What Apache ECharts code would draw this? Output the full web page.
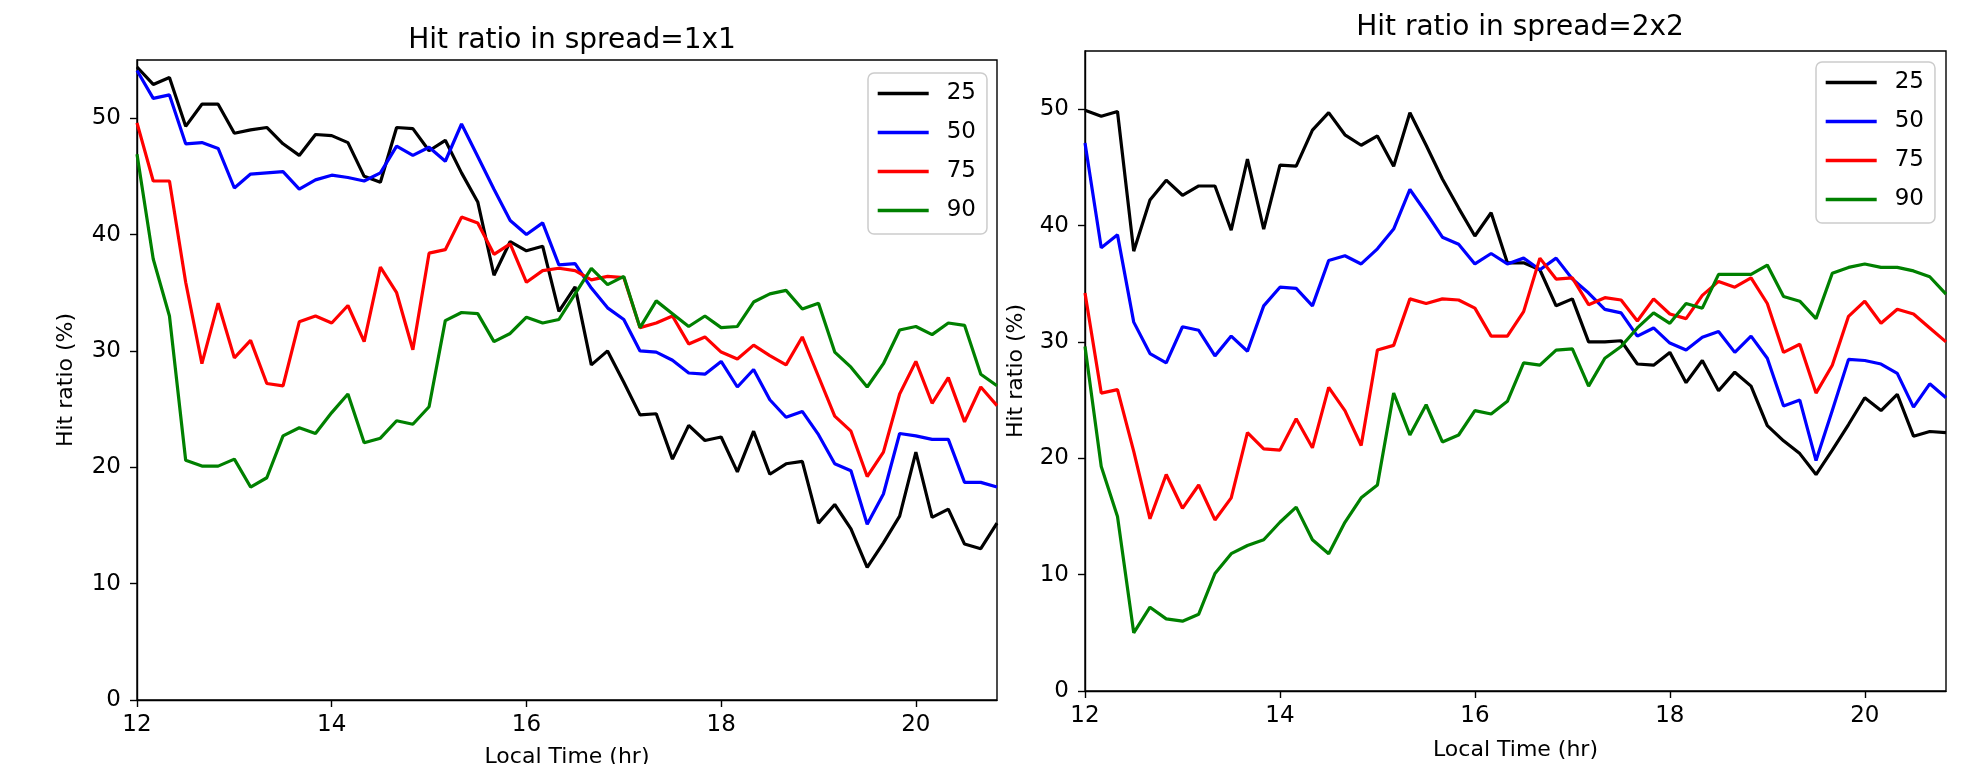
<!DOCTYPE html>
<html>
<head>
<meta charset="utf-8">
<script src="https://cdn.jsdelivr.net/npm/echarts@6/dist/echarts.min.js"></script>
<style>
html, body { margin: 0; padding: 0; background: #fff; }
#chart { width: 1984px; height: 764px; }
</style>
</head>
<body>
<div id="chart"></div>
<script>
// local time, 10 min steps
const times = [
  '12:00','12:10','12:20','12:30','12:40','12:50',
  '13:00','13:10','13:20','13:30','13:40','13:50',
  '14:00','14:10','14:20','14:30','14:40','14:50',
  '15:00','15:10','15:20','15:30','15:40','15:50',
  '16:00','16:10','16:20','16:30','16:40','16:50',
  '17:00','17:10','17:20','17:30','17:40','17:50',
  '18:00','18:10','18:20','18:30','18:40','18:50',
  '19:00','19:10','19:20','19:30','19:40','19:50',
  '20:00','20:10','20:20','20:30','20:40','20:50'
]
const percentiles = ['25', '50', '75', '90']
const colors = ['#000000', '#0000ff', '#ff0000', '#008000']
const yTicks = [0, 10, 20, 30, 40, 50]

// spread = 1x1
const hit1x1_25 = [54.4, 52.9, 53.5, 49.3, 51.2, 51.2, 48.7, 49.0, 49.2, 47.8, 46.8, 48.6, 48.5, 47.9, 45.0, 44.5, 49.2, 49.1,
  47.2, 48.1, 45.3, 42.8, 36.5, 39.4, 38.6, 39.0, 33.4, 35.5, 28.8, 30.0, 27.3, 24.5, 24.6, 20.7, 23.6, 22.3,
  22.6, 19.6, 23.1, 19.4, 20.3, 20.5, 15.2, 16.8, 14.7, 11.4, 13.5, 15.8, 21.3, 15.7, 16.4, 13.4, 13.0, 15.2]
const hit1x1_50 = [54.1, 51.7, 52.0, 47.8, 47.9, 47.4, 44.0, 45.2, 45.3, 45.4, 43.9, 44.7, 45.1, 44.9, 44.6, 45.3, 47.6, 46.8,
  47.5, 46.3, 49.5, 46.7, 43.9, 41.2, 40.0, 41.0, 37.4, 37.5, 35.4, 33.7, 32.7, 30.0, 29.9, 29.2, 28.1, 28.0,
  29.1, 26.9, 28.4, 25.8, 24.3, 24.8, 22.8, 20.3, 19.7, 15.1, 17.7, 22.9, 22.7, 22.4, 22.4, 18.7, 18.7, 18.3]
const hit1x1_75 = [49.6, 44.6, 44.6, 35.9, 28.9, 34.1, 29.4, 30.9, 27.2, 27.0, 32.5, 33.0, 32.4, 33.9, 30.8, 37.2, 35.0, 30.1,
  38.4, 38.7, 41.5, 41.0, 38.3, 39.2, 35.9, 36.9, 37.1, 36.9, 36.1, 36.4, 36.3, 32.0, 32.4, 33.0, 30.6, 31.2,
  29.9, 29.3, 30.5, 29.6, 28.8, 31.2, 27.8, 24.4, 23.1, 19.2, 21.3, 26.3, 29.1, 25.5, 27.7, 23.9, 26.9, 25.3]
const hit1x1_90 = [46.9, 37.9, 33.0, 20.6, 20.1, 20.1, 20.7, 18.3, 19.1, 22.7, 23.4, 22.9, 24.7, 26.3, 22.1, 22.5, 24.0, 23.7,
  25.2, 32.6, 33.3, 33.2, 30.8, 31.5, 32.9, 32.4, 32.7, 34.9, 37.1, 35.7, 36.4, 32.0, 34.3, 33.2, 32.1, 33.0,
  32.0, 32.1, 34.2, 34.9, 35.2, 33.6, 34.1, 29.9, 28.6, 26.9, 28.9, 31.8, 32.1, 31.4, 32.4, 32.2, 28.0, 27.0]

// spread = 2x2
const hit2x2_25 = [49.9, 49.4, 49.8, 37.8, 42.2, 43.9, 42.6, 43.4, 43.4, 39.6, 45.7, 39.7, 45.2, 45.1, 48.2, 49.7, 47.8, 46.9, 47.7,
  45.1, 49.7, 46.9, 44.0, 41.5, 39.1, 41.1, 36.8, 36.8, 36.2, 33.1, 33.7, 30.0, 30.0, 30.1, 28.1, 28.0, 29.1,
  26.5, 28.4, 25.8, 27.4, 26.2, 22.8, 21.5, 20.4, 18.6, 20.7, 22.9, 25.2, 24.1, 25.5, 21.9, 22.3, 22.2]
const hit2x2_50 = [47.1, 38.1, 39.2, 31.7, 29.0, 28.2, 31.3, 31.0, 28.8, 30.5, 29.2, 33.1, 34.7, 34.6, 33.1, 37.0, 37.4, 36.7, 38.0,
  39.7, 43.1, 41.1, 39.0, 38.4, 36.7, 37.6, 36.7, 37.2, 36.2, 37.2, 35.4, 34.2, 32.8, 32.5, 30.5, 31.2, 29.9,
  29.3, 30.4, 30.9, 29.1, 30.5, 28.6, 24.5, 25.0, 19.8, 24.1, 28.5, 28.4, 28.1, 27.3, 24.4, 26.4, 25.2]
const hit2x2_75 = [34.2, 25.6, 25.9, 20.6, 14.8, 18.6, 15.7, 17.7, 14.7, 16.6, 22.2, 20.8, 20.7, 23.4, 20.9, 26.1, 24.1, 21.1, 29.3,
  29.7, 33.7, 33.3, 33.7, 33.6, 32.9, 30.5, 30.5, 32.6, 37.2, 35.4, 35.5, 33.2, 33.8, 33.6, 31.8, 33.7, 32.4,
  32.0, 34.0, 35.2, 34.7, 35.5, 33.3, 29.1, 29.8, 25.6, 28.0, 32.2, 33.5, 31.6, 32.8, 32.4, 31.2, 30.0]
const hit2x2_90 = [29.6, 19.3, 15.0, 5.0, 7.2, 6.2, 6.0, 6.6, 10.1, 11.8, 12.5, 13.0, 14.5, 15.8, 13.0, 11.8, 14.5, 16.6, 17.7,
  25.6, 22.0, 24.6, 21.4, 22.0, 24.1, 23.8, 24.9, 28.2, 28.0, 29.3, 29.4, 26.2, 28.6, 29.6, 31.2, 32.5, 31.6,
  33.3, 32.9, 35.8, 35.8, 35.8, 36.6, 33.9, 33.5, 32.0, 35.9, 36.4, 36.7, 36.4, 36.4, 36.1, 35.6, 34.1]

const panels = [
  { title: 'Hit ratio in spread=1x1', data: [hit1x1_25, hit1x1_50, hit1x1_75, hit1x1_90] },
  { title: 'Hit ratio in spread=2x2', data: [hit2x2_25, hit2x2_50, hit2x2_75, hit2x2_90] }
]

const font = 'DejaVu Sans'
const ink = '#000'

const chart = echarts.init(document.getElementById('chart'), null, { renderer: 'canvas' })

const grids = [
  { left: 137, top: 60, width: 860, height: 640 },
  { left: 1085, top: 51, width: 861, height: 640 }
]

const axisLine = { show: true, lineStyle: { color: ink, width: 1.4 } }
const axisTick = (interval) => ({ show: true, inside: false, length: 7, interval, lineStyle: { color: ink, width: 1.4 } })

const options = {
  animation: false,
  textStyle: { fontFamily: font },
  title: [
    { text: panels[0].title, left: 567, top: 22, textAlign: 'center',
      textStyle: { fontFamily: font, fontSize: 28, fontWeight: 'normal', color: ink } },
    { text: panels[1].title, left: 1515, top: 9, textAlign: 'center',
      textStyle: { fontFamily: font, fontSize: 28, fontWeight: 'normal', color: ink } }
  ],
  grid: grids.map(g => ({
    ...g,
    outerBoundsMode: 'none',
    containLabel: false,
    show: true,
    borderColor: ink,
    borderWidth: 1.4,
    backgroundColor: '#fff'
  })),
  legend: [
    { left: 868, top: 73 },
    { left: 1816, top: 62 }
  ].map(pos => ({
    ...pos,
    data: percentiles,
    orient: 'vertical',
    itemWidth: 51,
    itemHeight: 20,
    itemGap: 16,
    padding: [9, 11, 12, 8],
    backgroundColor: 'rgba(255,255,255,0.8)',
    borderColor: '#cccccc',
    borderWidth: 1.5,
    borderRadius: 6,
    itemStyle: { opacity: 0, color: 'rgba(0,0,0,0)', borderWidth: 0 },
    lineStyle: { opacity: 1, width: 3.4 },
    textStyle: { fontFamily: font, fontSize: 23, color: ink, padding: [0, 0, 0, 13] }
  })),
  xAxis: [0, 1].map(i => ({
    type: 'category',
    gridIndex: i,
    data: times,
    boundaryGap: false,
    name: 'Local Time (hr)',
    nameLocation: 'middle',
    nameGap: i === 0 ? 46 : 48,
    nameTextStyle: { fontFamily: font, fontSize: 22, color: ink },
    axisLine,
    axisTick: axisTick(11),
    axisLabel: {
      interval: 11,
      margin: 14,
      fontFamily: font,
      fontSize: 23,
      color: ink,
      formatter: v => String(parseInt(v, 10))
    },
    splitLine: { show: false }
  })),
  yAxis: [0, 1].map(i => ({
    type: 'value',
    gridIndex: i,
    min: 0,
    max: 55,
    interval: 10,
    name: 'Hit ratio (%)',
    nameLocation: 'middle',
    nameGap: i === 0 ? 60 : 58,
    nameTextStyle: { fontFamily: font, fontSize: 22, color: ink },
    axisLine,
    axisTick: { ...axisTick(), customValues: yTicks },
    axisLabel: {
      margin: 16,
      fontFamily: font,
      fontSize: 23,
      color: ink,
      customValues: yTicks
    },
    splitLine: { show: false }
  })),
  series: []
}

panels.forEach((panel, p) => {
  panel.data.forEach((values, k) => {
    options.series.push({
      type: 'line',
      name: percentiles[k],
      xAxisIndex: p,
      yAxisIndex: p,
      data: values,
      symbol: 'none',
      smooth: false,
      color: colors[k],
      lineStyle: { color: colors[k], width: 3.2 }
    })
  })
})

chart.setOption(options)
</script>
</body>
</html>
